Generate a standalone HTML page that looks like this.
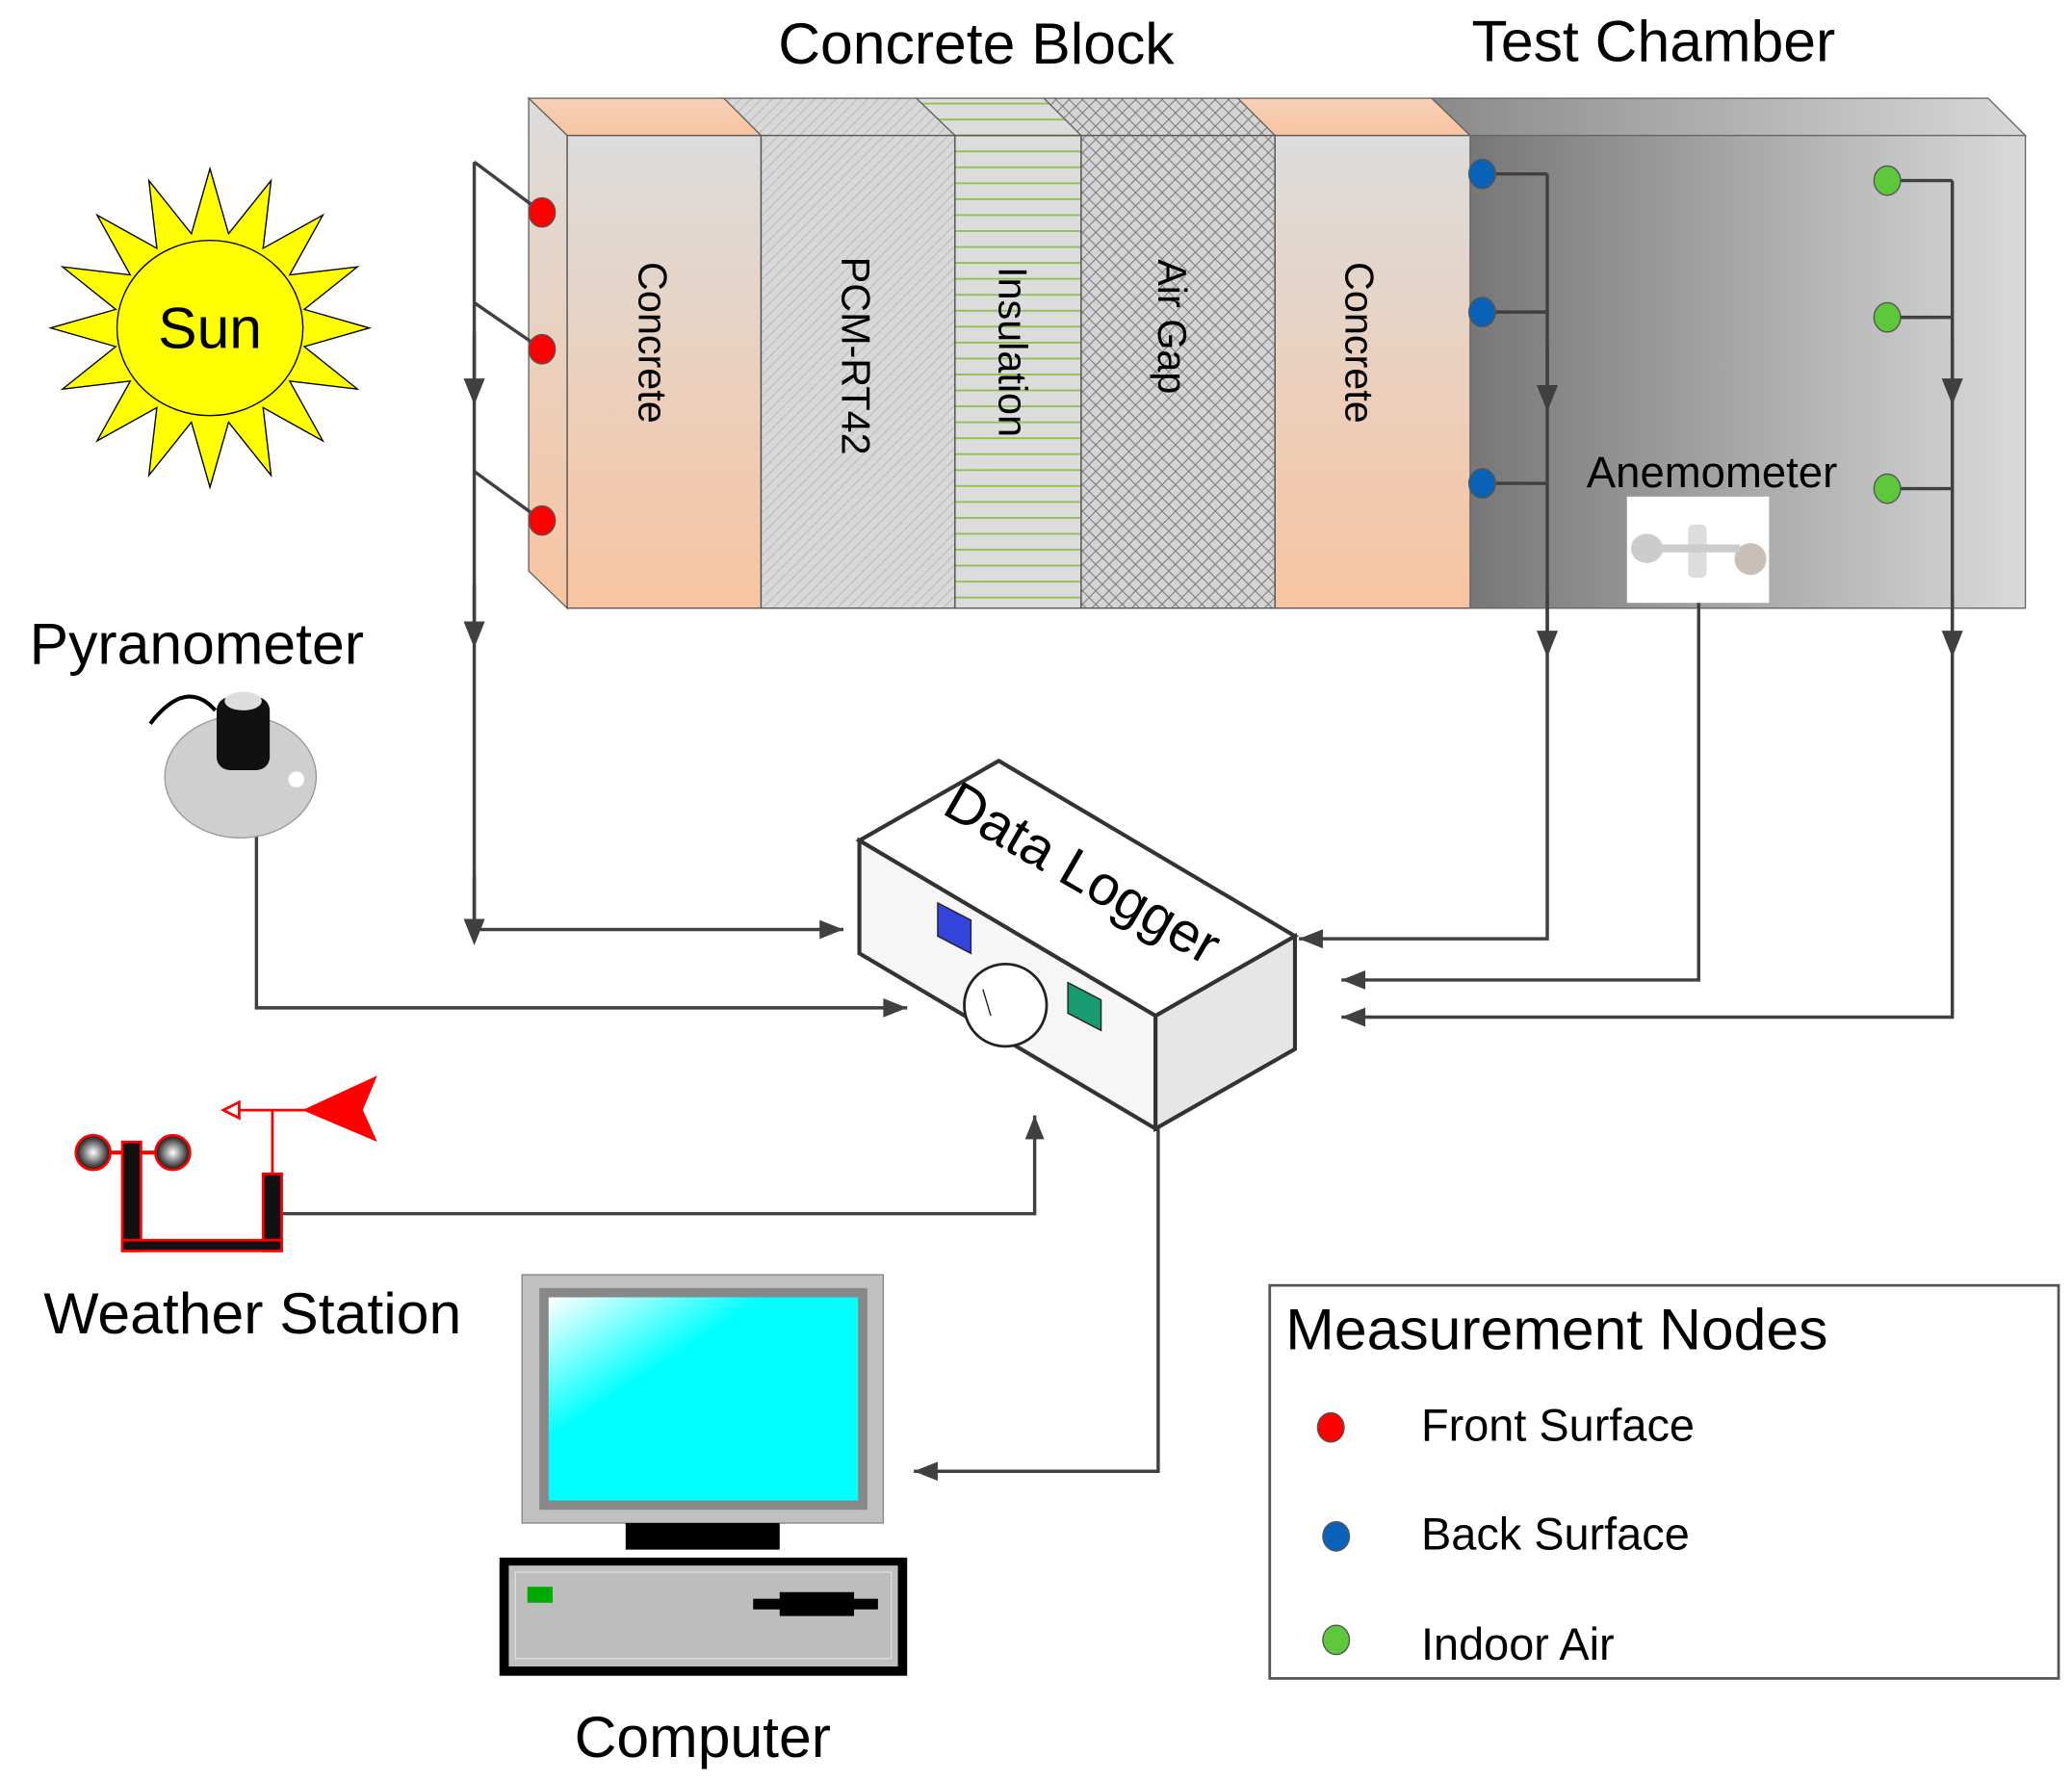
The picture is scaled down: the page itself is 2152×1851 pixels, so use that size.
<!DOCTYPE html>
<html><head><meta charset="utf-8"><style>html,body{margin:0;padding:0;background:#fff}svg{display:block}</style></head><body>
<svg width="2152" height="1851" viewBox="0 0 1560 1342" xmlns="http://www.w3.org/2000/svg" font-family="'Liberation Sans',sans-serif">
<defs>
<linearGradient id="conc" x1="0" y1="0" x2="0" y2="1"><stop offset="0" stop-color="#dcdcdc"/><stop offset="1" stop-color="#f8c4a0"/></linearGradient>
<linearGradient id="conct" x1="0" y1="0" x2="0" y2="1"><stop offset="0" stop-color="#f6d0b6"/><stop offset="1" stop-color="#f8c4a0"/></linearGradient>
<linearGradient id="cham" x1="0" y1="0" x2="1" y2="0"><stop offset="0" stop-color="#777"/><stop offset="1" stop-color="#dadada"/></linearGradient>
<linearGradient id="chamt" x1="0" y1="0" x2="1" y2="0"><stop offset="0" stop-color="#8a8a8a"/><stop offset="1" stop-color="#d8d8d8"/></linearGradient>
<pattern id="diag" width="8" height="8" patternUnits="userSpaceOnUse"><rect width="8" height="8" fill="#d8d8d8"/><path d="M0 8L8 0" stroke="#bbb" stroke-width="0.8"/></pattern>
<pattern id="hlines" width="10" height="12" patternUnits="userSpaceOnUse"><rect width="10" height="12" fill="#dcdcdc"/><path d="M0 6H10" stroke="#8fbf4a" stroke-width="1.3"/></pattern>
<pattern id="cross" width="10" height="10" patternUnits="userSpaceOnUse"><rect width="10" height="10" fill="#d4d4d4"/><path d="M0 0L10 10M10 0L0 10" stroke="#777" stroke-width="0.7"/></pattern>
<marker id="ar" viewBox="0 0 10 10" refX="10" refY="5" markerWidth="20" markerHeight="18" markerUnits="userSpaceOnUse" orient="auto"><path d="M0 1L10 5L0 9z" fill="#404040"/></marker>
<marker id="ab" viewBox="0 0 10 10" refX="5" refY="5" markerWidth="20" markerHeight="20" markerUnits="userSpaceOnUse" orient="auto"><path d="M0 1L10 5L0 9z" fill="#404040"/></marker>
<radialGradient id="ball"><stop offset="0" stop-color="#fff"/><stop offset="1" stop-color="#111"/></radialGradient>
<linearGradient id="scr" x1="0" y1="0" x2="1" y2="1"><stop offset="0" stop-color="#fff"/><stop offset="0.35" stop-color="#0ff"/></linearGradient>
</defs>

<text x="735" y="48" font-size="44" text-anchor="middle">Concrete Block</text>
<text x="1245" y="46" font-size="44" text-anchor="middle">Test Chamber</text>

<polygon points="398,74 545,74 573,102 427,102" fill="url(#conct)" stroke="#666"/>
<polygon points="545,74 690,74 719,102 573,102" fill="url(#diag)" stroke="#666"/>
<polygon points="690,74 786,74 814,102 719,102" fill="url(#hlines)" stroke="#666"/>
<polygon points="786,74 932,74 960,102 814,102" fill="url(#cross)" stroke="#666"/>
<polygon points="932,74 1078,74 1107,102 960,102" fill="url(#conct)" stroke="#666"/>
<polygon points="1078,74 1497,74 1525,102 1107,102" fill="url(#chamt)" stroke="#666"/>
<polygon points="398,74 427,102 427,458 398,430" fill="url(#conc)" stroke="#666"/>
<rect x="427" y="102" width="146" height="356" fill="url(#conc)" stroke="#555"/>
<rect x="573" y="102" width="146" height="356" fill="url(#diag)" stroke="#555"/>
<rect x="719" y="102" width="95" height="356" fill="url(#hlines)" stroke="#555"/>
<rect x="814" y="102" width="146" height="356" fill="url(#cross)" stroke="#555"/>
<rect x="960" y="102" width="147" height="356" fill="url(#conc)" stroke="#555"/>
<rect x="1107" y="102" width="418" height="356" fill="url(#cham)" stroke="#666"/>

<g font-size="30">
<text transform="translate(481,258) rotate(90)" text-anchor="middle">Concrete</text>
<text transform="translate(634,268) rotate(90)" text-anchor="middle">PCM-RT42</text>
<text transform="translate(752,265) rotate(90)" text-anchor="middle">Insulation</text>
<text transform="translate(872,246) rotate(90)" text-anchor="middle">Air Gap</text>
<text transform="translate(1013,258) rotate(90)" text-anchor="middle">Concrete</text>
</g>
<text x="1289" y="367" font-size="33" text-anchor="middle">Anemometer</text>
<rect x="1225" y="374" width="107" height="80" fill="#fff"/>
<ellipse cx="1240" cy="413" rx="12" ry="11" fill="#ccc"/><ellipse cx="1318" cy="421" rx="12" ry="12" fill="#c8bfb8"/>
<rect x="1271" y="395" width="14" height="40" fill="#ddd" rx="4"/><rect x="1250" y="410" width="60" height="6" fill="#ccc"/>

<g stroke="#404040" stroke-width="2.5" fill="none">
<path d="M357,122 L408,160 M357,228 L408,263 M357,355 L408,392"/>
<path d="M357,122 V700 H635" marker-end="url(#ar)"/>
<path d="M357,250 V295" marker-end="url(#ab)"/>
<path d="M357,440 V478" marker-end="url(#ab)"/>
<path d="M357,660 V702" marker-end="url(#ab)"/>
<path d="M1116,131 H1165 M1116,235 H1165 M1116,364 H1165"/>
<path d="M1165,131 V707 H978" marker-end="url(#ar)"/>
<path d="M1165,260 V300" marker-end="url(#ab)"/>
<path d="M1165,445 V485" marker-end="url(#ab)"/>
<path d="M1421,136 H1470 M1421,239 H1470 M1421,368 H1470"/>
<path d="M1470,136 V766 H1010" marker-end="url(#ar)"/>
<path d="M1470,255 V295" marker-end="url(#ab)"/>
<path d="M1470,445 V485" marker-end="url(#ab)"/>
<path d="M1279,454 V738 H1010" marker-end="url(#ar)"/>
<path d="M193,630 V759 H683" marker-end="url(#ar)"/>
<path d="M213,914 H779 V840" marker-end="url(#ar)"/>
<path d="M872,850 V1108 H688" marker-end="url(#ar)"/>
</g>

<g stroke="#555" stroke-width="1">
<ellipse cx="408" cy="160" rx="10" ry="11" fill="#f00"/><ellipse cx="408" cy="263" rx="10" ry="11" fill="#f00"/><ellipse cx="408" cy="392" rx="10" ry="11" fill="#f00"/>
<ellipse cx="1116" cy="131" rx="10" ry="11" fill="#0a62b8"/><ellipse cx="1116" cy="235" rx="10" ry="11" fill="#0a62b8"/><ellipse cx="1116" cy="364" rx="10" ry="11" fill="#0a62b8"/>
<ellipse cx="1421" cy="136" rx="10" ry="11" fill="#5cc83a"/><ellipse cx="1421" cy="239" rx="10" ry="11" fill="#5cc83a"/><ellipse cx="1421" cy="368" rx="10" ry="11" fill="#5cc83a"/>
</g>

<polygon points="278,247 229,261 269,293 218,287 243,332 198,307 204,358 172,318 158,367 144,318 112,358 118,307 73,332 98,287 47,293 87,261 38,247 87,233 47,201 98,207 73,162 118,187 112,136 144,176 158,127 172,176 204,136 198,187 243,162 218,207 269,201 229,233" fill="#ff0" stroke="#000"/>
<ellipse cx="158" cy="247" rx="70" ry="66" fill="#ff0" stroke="#000"/>
<text x="158" y="262" font-size="44" text-anchor="middle">Sun</text>

<text x="148" y="500" font-size="44" text-anchor="middle">Pyranometer</text>
<path d="M113,545 Q140,510 162,535" stroke="#000" stroke-width="3" fill="none"/>
<ellipse cx="181" cy="585" rx="57" ry="46" fill="#cfcfcf" stroke="#999"/>
<rect x="163" y="525" width="40" height="55" rx="10" fill="#111"/>
<ellipse cx="183" cy="528" rx="14" ry="7" fill="#ddd"/>
<circle cx="223" cy="587" r="6" fill="#fff"/>

<polygon points="647,633 752,573 975,705 870,765" fill="#fff" stroke="#333" stroke-width="3"/>
<polygon points="647,633 870,765 870,850 647,718" fill="#f6f6f6" stroke="#333" stroke-width="3"/>
<polygon points="870,765 975,705 975,790 870,850" fill="#e6e6e6" stroke="#333" stroke-width="3"/>
<text transform="translate(708,612) rotate(30)" font-size="42">Data Logger</text>
<polygon points="706,680 731,693 731,718 706,705" fill="#3344dd" stroke="#222"/>
<polygon points="804,740 829,753 829,776 804,763" fill="#1a9a70" stroke="#222"/>
<circle cx="757" cy="757" r="31" fill="#fff" stroke="#222" stroke-width="2"/>
<path d="M740,745 L746,765" stroke="#222"/>

<g stroke="#f00" stroke-width="2">
<path d="M230,836 L282,812 L272,836 L282,858 Z" fill="#f00"/>
<path d="M170,836 H232 M205,836 V884"/>
<path d="M180,830 L168,836 L180,842Z" fill="#fff"/>
<path d="M83,868 H117" stroke-width="3"/>
<circle cx="70" cy="868" r="13" fill="url(#ball)"/>
<circle cx="130" cy="868" r="13" fill="url(#ball)"/>
</g>
<rect x="92" y="860" width="14" height="82" fill="#111" stroke="#f00" stroke-width="2"/>
<rect x="198" y="884" width="14" height="58" fill="#111" stroke="#f00" stroke-width="2"/>
<rect x="92" y="934" width="120" height="8" fill="#111" stroke="#f00" stroke-width="2"/>
<text x="190" y="1004" font-size="44" text-anchor="middle">Weather Station</text>

<rect x="393" y="960" width="272" height="187" fill="#c0c0c0" stroke="#888"/>
<rect x="406" y="970" width="247" height="167" fill="#888"/>
<rect x="413" y="977" width="233" height="153" fill="url(#scr)"/>
<rect x="471" y="1147" width="116" height="20" fill="#000"/>
<rect x="376" y="1173" width="307" height="89" fill="#000"/>
<rect x="383" y="1179" width="293" height="76" fill="#c0c0c0"/>
<rect x="388" y="1184" width="283" height="65" fill="#bdbdbd" stroke="#ddd"/>
<rect x="397" y="1195" width="19" height="12" fill="#0a0"/>
<rect x="567" y="1204" width="94" height="8" fill="#000"/><rect x="587" y="1199" width="56" height="18" fill="#000"/>
<text x="529" y="1323" font-size="44" text-anchor="middle">Computer</text>

<rect x="956" y="968" width="594" height="296" fill="#fff" stroke="#555" stroke-width="2"/>
<text x="968" y="1016" font-size="44">Measurement Nodes</text>
<g font-size="34">
<text x="1070" y="1085">Front Surface</text>
<text x="1070" y="1167">Back Surface</text>
<text x="1070" y="1250">Indoor Air</text>
</g>
<g stroke="#555">
<ellipse cx="1002" cy="1075" rx="10" ry="11" fill="#f00"/>
<ellipse cx="1006" cy="1157" rx="10" ry="11" fill="#0a62b8"/>
<ellipse cx="1006" cy="1235" rx="10" ry="11" fill="#5cc83a"/>
</g>
</svg>
</body></html>
